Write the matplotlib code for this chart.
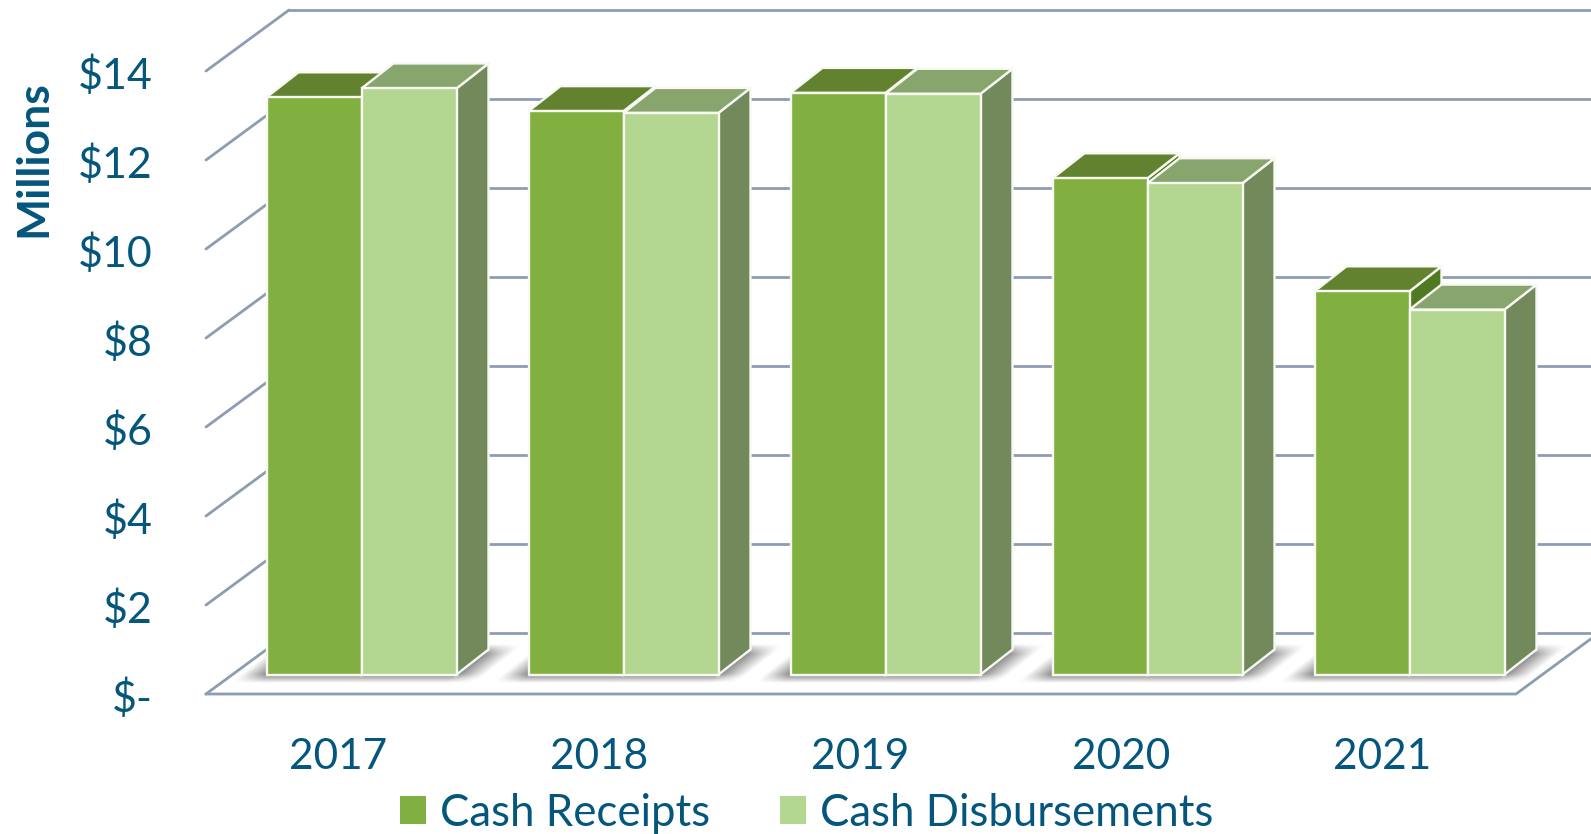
import matplotlib
matplotlib.use("Agg")
import matplotlib.pyplot as plt
from matplotlib.patches import Polygon, Patch
import numpy as np

# datos (millones)
years = ["2017", "2018", "2019", "2020", "2021"]
receipts = [12.97, 12.66, 13.07, 11.15, 8.61]
disbursements = [13.17, 12.62, 13.05, 11.04, 8.20]
ticks = [0, 2, 4, 6, 8, 10, 12, 14]
tick_labels = ["$-", "$2", "$4", "$6", "$8", "$10", "$12", "$14"]

W, H = 1591, 834
SX, SY = 262.0, 44.5     # pixeles por grupo / por millon
X0, Y0 = 361.5, 674.5    # pixel del inicio de barras en 2017, base

TEXT = "#04567c"
GRID = "#8c9db3"
BAR_W = 95 / SX
DX, DY = 32 / SX, 25 / SY


def xd(px):
    return (px - X0) / SX


def yd(py):
    return (Y0 - py) / SY


fig = plt.figure(figsize=(W / 100, H / 100), dpi=100)
ax = fig.add_axes([0, 0, 1, 1])
ax.set_xlim(xd(0), xd(W))
ax.set_ylim(yd(H), yd(0))
ax.axis("off")

# pared y piso
fx, bx = xd(206), xd(289)
fy, by = yd(694), yd(633)
for t in ticks:
    ax.plot([fx, bx], [fy + t, by + t], color=GRID, lw=2, zorder=1, solid_capstyle="round")
    ax.plot([bx, xd(W + 5)], [by + t, by + t], color=GRID, lw=2, zorder=1)
ax.plot([fx, xd(1516), xd(1597)], [fy, fy, by - 0.03], color=GRID, lw=2, zorder=1)

# sombras en el piso
yy, xx = np.mgrid[yd(700):yd(630):140j, xd(200):xd(1591):1400j]
for i in range(len(years)):
    u = xx - i - yy * (DX / DY)
    left = np.clip((u + BAR_W + 26 / SX) / (28 / SX), 0, 1)
    right = np.clip((BAR_W + 28 / SX - u) / (30 / SX), 0, 1)
    low = np.clip((yy - yd(683)) / (9 / SY), 0, 1)
    high = np.clip((yd(644) - yy) / (10 / SY), 0, 1)
    alpha = left * right * low * high * 0.8
    rgba = np.zeros(xx.shape + (4,))
    rgba[..., :3] = 0.38
    rgba[..., 3] = alpha
    ax.imshow(rgba, extent=(xx.min(), xx.max(), yy.min(), yy.max()), origin="lower",
              aspect="auto", zorder=2)
ax.set_xlim(xd(0), xd(W))
ax.set_ylim(yd(H), yd(0))


def bar3d(x, v, front, top, side, z):
    edge = dict(edgecolor="#f7f9f2", linewidth=1.7, joinstyle="miter", zorder=z)
    x2 = x + BAR_W
    ax.add_patch(Polygon([(x2, 0), (x2 + DX, DY), (x2 + DX, v + DY), (x2, v)], facecolor=side, **edge))
    ax.add_patch(Polygon([(x, v), (x2, v), (x2 + DX, v + DY), (x + DX, v + DY)], facecolor=top, **edge))
    ax.add_patch(Polygon([(x, 0), (x2, 0), (x2, v), (x, v)], facecolor=front, **edge))


for i in range(len(years)):
    bar3d(i - BAR_W, receipts[i], "#82b040", "#63822f", "#507a22", 3 + i)
    bar3d(i, disbursements[i], "#b3d690", "#87a56c", "#71895b", 3 + i + 0.5)
    ax.text(i - (23 + i) / SX, yd(757), years[i], ha="center", va="center", fontsize=30.5,
            color=TEXT, family="Lato")

for t, lab in zip(ticks, tick_labels):
    ax.text(xd(153), fy + t - 5 / SY, lab, ha="right", va="center", fontsize=31, color=TEXT, family="Lato")

ax.text(xd(33), yd(159), "Millions", rotation=90, ha="center", va="center", fontsize=32,
        fontweight="bold", color=TEXT, family="Lato")

handles = [Patch(facecolor="#82b040", label="Cash Receipts"),
           Patch(facecolor="#b3d690", label="Cash Disbursements")]
ax.legend(handles=handles, ncol=2, frameon=False, loc="center", bbox_to_anchor=(807 / W, 1 - 813 / H),
          prop={"family": "Lato", "size": 31.5}, labelcolor=TEXT, handlelength=0.58, handleheight=0.58,
          handletextpad=0.33, columnspacing=1.6, borderpad=0, borderaxespad=0)

fig.savefig("out.png", dpi=100)
